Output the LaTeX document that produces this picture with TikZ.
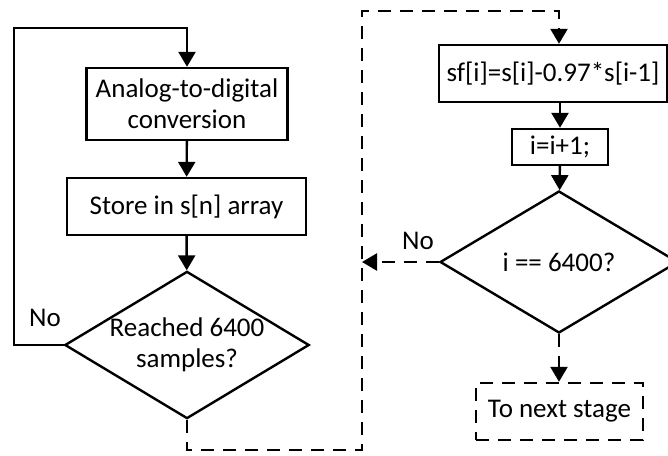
\documentclass[tikz,border=0pt]{standalone}
\usepackage{fontspec}
\setmainfont{Carlito}
\usepackage{tikz}
\usetikzlibrary{arrows.meta,shapes.geometric}

\begin{document}
\begin{tikzpicture}[x=1pt,y=-1pt,line width=2.4pt]
  \tikzstyle{every node}=[font=\fontsize{27}{31}\selectfont]
  \tikzstyle{block}=[draw,rectangle,align=center,inner sep=0pt]
  \tikzstyle{test}=[draw,diamond,aspect=1.66,align=center,inner sep=0pt]
  \tikzstyle{arr}=[-{Triangle[length=15pt,width=17pt]}]
  \tikzstyle{dashline}=[dash pattern=on 13pt off 9pt]
  \useasboundingbox (0,0) rectangle (668,455);
  % left column
  \node[block,minimum width=201pt,minimum height=72pt] (adc) at (187,104) {Analog-to-digital\\conversion};
  \node[block,minimum width=239pt,minimum height=57pt] (store) at (186.5,206.5) {Store in s[n] array};
  \node[test,minimum width=239pt,minimum height=144pt] (reach) at (187,345) {Reached 6400\\samples?};
  % right column
  \node[block,minimum width=228pt,minimum height=57pt] (filt) at (553,73.5) {sf[i]=s[i]-0.97*s[i-1]};
  \node[block,minimum width=96pt,minimum height=36pt] (inc) at (560,147) {i=i+1;};
  \node[test,minimum width=238pt,minimum height=142pt] (check) at (559,262) {i == 6400?};
  \node[block,dashline,minimum width=167pt,minimum height=57pt] (next) at (559.5,411.5) {To next stage};
  \node (no1) at (45,318) {No};
  \node (no2) at (418,241) {No};
  \coordinate (ltop) at (14,28);
  \coordinate (dbot) at (362,450);
  \coordinate (dtop) at (559,11);
  \draw[arr] (reach.west) -| (ltop) -| (adc.north);
  \draw[arr] (adc) -- (store);
  \draw[arr] (store) -- (reach);
  \draw[arr,dashline] (reach.south) |- (dbot) |- (dtop) -- (filt.north -| dtop);
  \draw[arr] (filt.south -| inc) -- (inc);
  \draw[arr] (inc) -- (check);
  \draw[arr,dashline] (check.west) -- (check.west -| dbot);
  \draw[arr,dashline] (check.south) -- (next.north -| check);
\end{tikzpicture}
\end{document}
